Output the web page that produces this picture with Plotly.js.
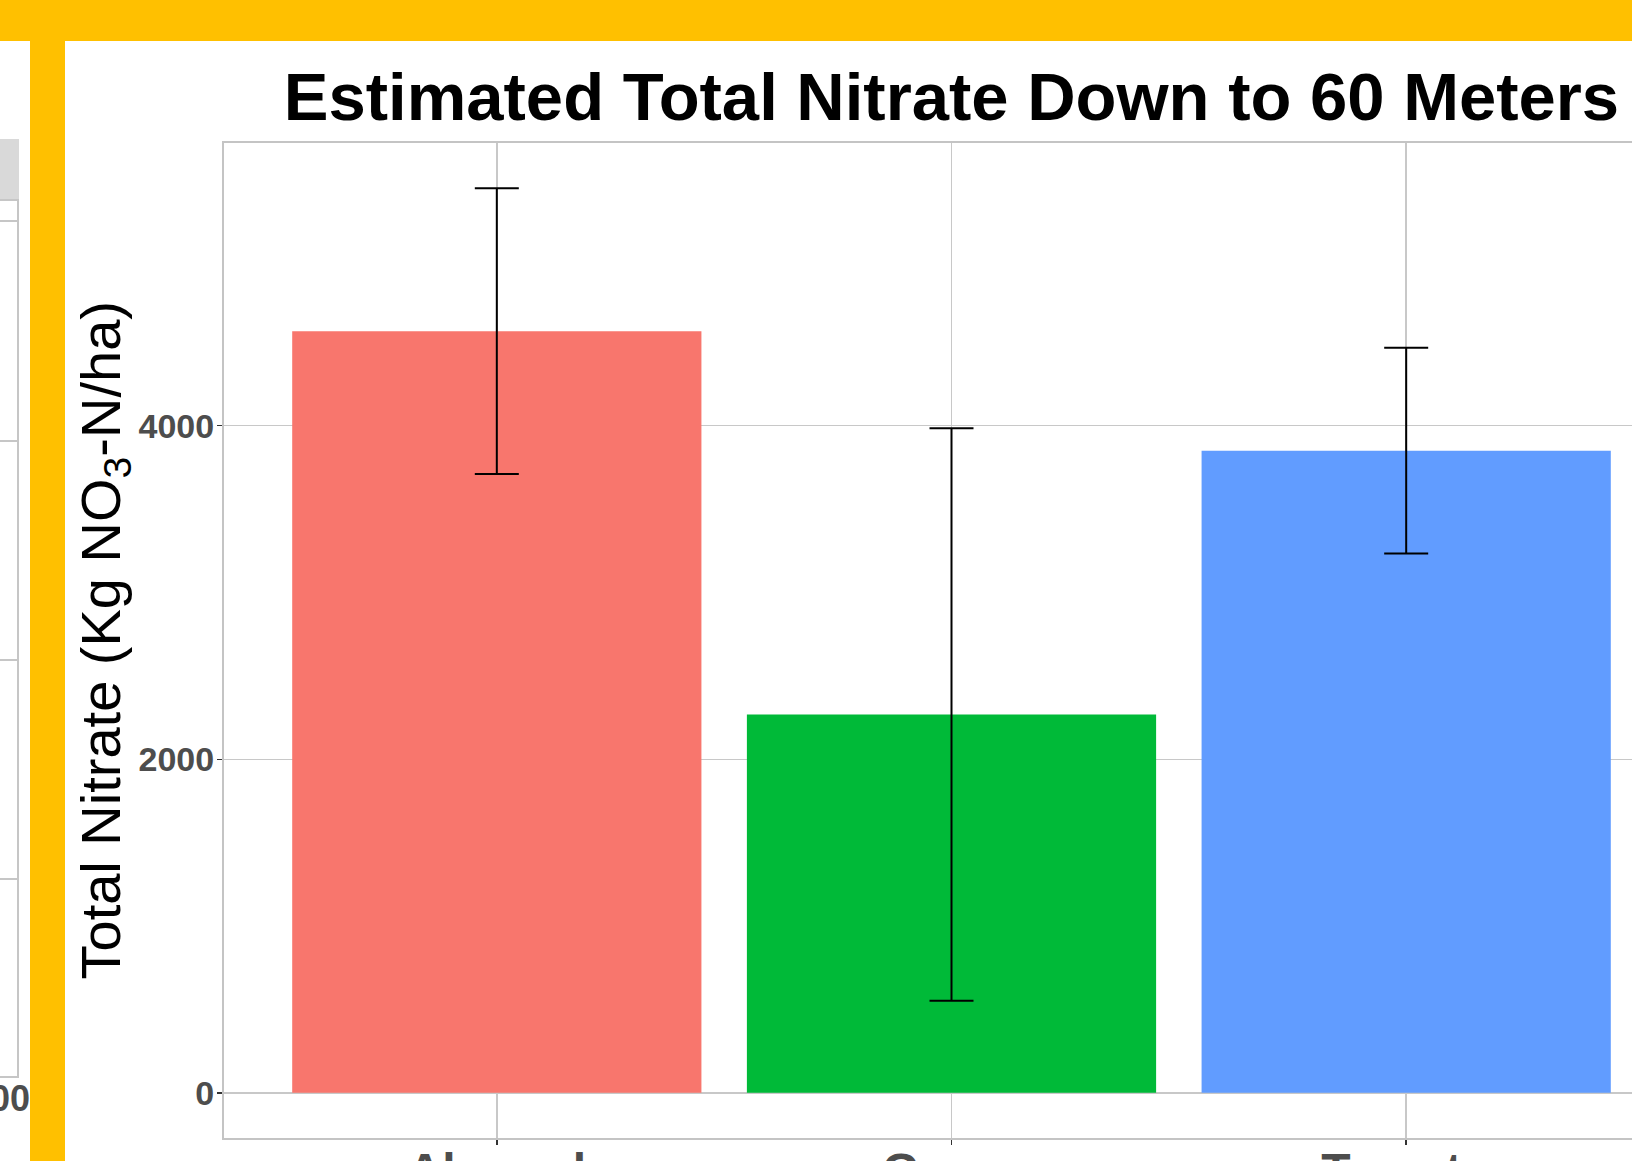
<!DOCTYPE html>
<html>
<head>
<meta charset="utf-8">
<script src="https://cdn.plot.ly/plotly-3.0.1.min.js"></script>
<style>
  html, body { margin:0; padding:0; width:1632px; height:1161px; overflow:hidden; background:#ffffff; }
  #chart { position:absolute; left:0; top:0; width:1700px; height:1161px; z-index:1; }
  .deco { position:absolute; z-index:2; }
  .yellow { background:#FFC000; z-index:5; }
  .gl { background:#c6c6c6; }
</style>
</head>
<body>
<!-- fragment of the neighbouring chart at the left edge -->
<div class="deco" style="left:0;top:139px;width:19px;height:60px;background:#d9d9d9;"></div>
<div class="deco gl" style="left:0;top:199px;width:19px;height:2px;"></div>
<div class="deco gl" style="left:17px;top:199px;width:2px;height:879px;"></div>
<div class="deco gl" style="left:0;top:1076px;width:19px;height:2px;"></div>
<div class="deco gl" style="left:0;top:220px;width:17px;height:1.5px;"></div>
<div class="deco gl" style="left:0;top:440px;width:17px;height:1.5px;"></div>
<div class="deco gl" style="left:0;top:659px;width:17px;height:1.5px;"></div>
<div class="deco gl" style="left:0;top:878px;width:17px;height:1.5px;"></div>
<div class="deco" style="left:-60px;top:1080px;width:90px;text-align:right;font:bold 36px 'Liberation Sans',sans-serif;color:#4d4d4d;line-height:38px;">1000</div>
<!-- slide frame -->
<div class="deco yellow" style="left:0;top:0;width:1632px;height:41px;"></div>
<div class="deco yellow" style="left:30px;top:0;width:35px;height:1161px;"></div>
<div id="chart"></div>
<script>
const categories = ["Almond", "Grape", "Tomato"];
const meanNitrate = [4567, 2268, 3850];
const errNitrate = [857, 1716, 617];
const barColors = ["#F8766D", "#00BA38", "#619CFF"];
const yTickVals = [0, 2000, 4000];
const yTickText = ["0", "2000", "4000"];
const titleText = "Estimated Total Nitrate Down to 60 Meters";
const yTitleText = "Total Nitrate (Kg NO<sub>3</sub>-N/ha)";

const sans = "Liberation Sans, Arial, sans-serif";

const trace = {
  type: "bar",
  x: categories,
  y: meanNitrate,
  width: 0.9,
  marker: { color: barColors, line: { width: 0 } },
  error_y: { type: "data", array: errNitrate, visible: true, color: "#000000", thickness: 2, width: 22 },
  hoverinfo: "x+y"
};

const layout = {
  width: 1700,
  height: 1161,
  margin: { l: 224, r: 21, t: 143, b: 23 },
  paper_bgcolor: "rgba(0,0,0,0)",
  plot_bgcolor: "#ffffff",
  showlegend: false,
  title: {
    text: "<b>" + titleText + "</b>",
    font: { family: sans, size: 67, color: "#000000" },
    x: 0.5, xref: "paper", xanchor: "center",
    y: 1 - 120 / 1161, yref: "container", yanchor: "bottom"
  },
  xaxis: {
    type: "category",
    range: [-0.6, 2.6],
    showgrid: true, gridcolor: "#c8c8c8", gridwidth: 1.5,
    showline: true, mirror: true, linecolor: "#c4c4c4", linewidth: 2,
    ticks: "outside", ticklen: 5, tickcolor: "#333333", tickwidth: 1.5,
    ticklabelstandoff: -16,
    tickfont: { family: sans, size: 48, color: "#4d4d4d", weight: "bold" },
    fixedrange: true
  },
  yaxis: {
    range: [-271, 5695],
    tickvals: yTickVals, ticktext: yTickText,
    showgrid: true, gridcolor: "#c8c8c8", gridwidth: 1.5,
    zeroline: false,
    showline: true, mirror: true, linecolor: "#c4c4c4", linewidth: 2,
    ticks: "outside", ticklen: 5, tickcolor: "#333333", tickwidth: 1.5,
    ticklabelstandoff: -4,
    tickfont: { family: sans, size: 34, color: "#4d4d4d", weight: "bold" },
    automargin: false,
    fixedrange: true
  },
  annotations: [{
    text: yTitleText,
    xref: "paper", yref: "paper",
    x: 0, y: 0.5, xanchor: "center", yanchor: "middle",
    xshift: -120,
    textangle: -90,
    showarrow: false,
    font: { family: sans, size: 56, color: "#000000" }
  }],
  bargap: 0.1
};

Plotly.newPlot("chart", [trace], layout, { displayModeBar: false, staticPlot: true });
</script>
</body>
</html>
